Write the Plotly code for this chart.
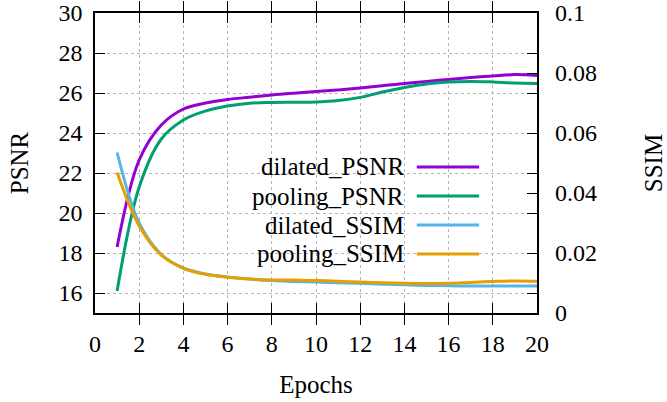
import plotly.graph_objects as go

epochs = list(range(1, 21))
dilated_psnr = [18.3, 22.65, 24.4, 25.2, 25.5, 25.68, 25.79, 25.9, 25.99, 26.07, 26.15, 26.25,
                26.36, 26.48, 26.58, 26.68, 26.77, 26.85, 26.92, 26.88]
pooling_psnr = [16.1, 21.3, 23.7, 24.65, 25.1, 25.35, 25.49, 25.53, 25.54, 25.55, 25.62, 25.78,
                26.05, 26.28, 26.45, 26.55, 26.58, 26.55, 26.5, 26.48]
dilated_ssim = [0.0535, 0.030, 0.0195, 0.015, 0.013, 0.012, 0.0113, 0.0108, 0.0105, 0.0103,
                0.0101, 0.0099, 0.0096, 0.0094, 0.0092, 0.0091, 0.009, 0.009, 0.009, 0.009]
pooling_ssim = [0.0468, 0.029, 0.0193, 0.0149, 0.0129, 0.0119, 0.0113, 0.011, 0.011, 0.0108,
                0.0106, 0.0103, 0.0101, 0.0099, 0.0098, 0.0099, 0.0102, 0.0105, 0.0107, 0.0106]

names = ["dilated_PSNR", "pooling_PSNR", "dilated_SSIM", "pooling_SSIM"]
colors = ["#9400D3", "#009E73", "#56B4E9", "#E69F00"]
series = [dilated_psnr, pooling_psnr, dilated_ssim, pooling_ssim]
axes = ["y", "y", "y2", "y2"]

x_ticks = list(range(0, 21, 2))
psnr_ticks = list(range(16, 31, 2))
ssim_ticks = [0, 0.02, 0.04, 0.06, 0.08, 0.1]
ssim_ticktext = ["0", "0.02", "0.04", "0.06", "0.08", "0.1"]

FONT = "Liberation Serif"
TICK_SIZE = 24
TITLE_SIZE = 25
LEGEND_SIZE = 25

fig = go.Figure()
for n, c, s, a in zip(names, colors, series, axes):
    fig.add_trace(go.Scatter(x=epochs, y=s, name=n, yaxis=a, mode="lines",
                             line=dict(color=c, width=3, shape="spline", smoothing=1.0),
                             showlegend=False))

# gnuplot-style legend: right-aligned text with line sample to its right
row_y = [0.487, 0.39, 0.293, 0.197]
for n, c, yy in zip(names, colors, row_y):
    fig.add_annotation(x=0.704, y=yy, xref="paper", yref="paper", text=n, showarrow=False,
                       xanchor="right", yanchor="middle",
                       font=dict(family=FONT, size=LEGEND_SIZE, color="black"))
    fig.add_shape(type="line", xref="paper", yref="paper", x0=0.728, x1=0.869, y0=yy, y1=yy,
                  line=dict(color=c, width=3))

axis_common = dict(ticks="inside", ticklen=10, tickcolor="black", tickwidth=1, automargin=False,
                   ticklabeloverflow="allow",
                   tickfont=dict(family=FONT, size=TICK_SIZE, color="black"))

fig.update_layout(
    width=667, height=402,
    margin=dict(l=95, r=130, t=13, b=89),
    paper_bgcolor="white", plot_bgcolor="white",
    font=dict(family=FONT, size=TICK_SIZE, color="black"),
    xaxis=dict(range=[0, 20], tickvals=x_ticks, showline=True, linecolor="black", linewidth=1.5,
               mirror="allticks", showgrid=True, gridcolor="#b4b4b4", griddash="dot", gridwidth=1,
               zeroline=False, ticklabelstandoff=8,
               title=dict(text="Epochs", font=dict(family=FONT, size=TITLE_SIZE), standoff=20),
               **axis_common),
    yaxis=dict(range=[15, 30], tickvals=psnr_ticks, showline=True, linecolor="black", linewidth=1.5,
               mirror="allticks", showgrid=True, gridcolor="#b4b4b4", griddash="dot", gridwidth=1,
               zeroline=False, ticklabelstandoff=6,
               title=dict(text="PSNR", font=dict(family=FONT, size=TITLE_SIZE), standoff=23),
               **axis_common),
    yaxis2=dict(range=[0, 0.1], tickvals=ssim_ticks, ticktext=ssim_ticktext, overlaying="y",
                side="right", showline=False, showgrid=False, zeroline=False, ticklabelstandoff=17,
                title=dict(text="SSIM", font=dict(family=FONT, size=TITLE_SIZE), standoff=53),
                **axis_common),
)

fig.write_html("out.html", config={"displayModeBar": False})

# remove the browser's default 8px body margin so the figure fills the window exactly
with open("out.html", encoding="utf-8") as fh:
    html = fh.read()
html = html.replace("<body>", '<body style="margin:0;overflow:hidden">', 1)
with open("out.html", "w", encoding="utf-8") as fh:
    fh.write(html)
